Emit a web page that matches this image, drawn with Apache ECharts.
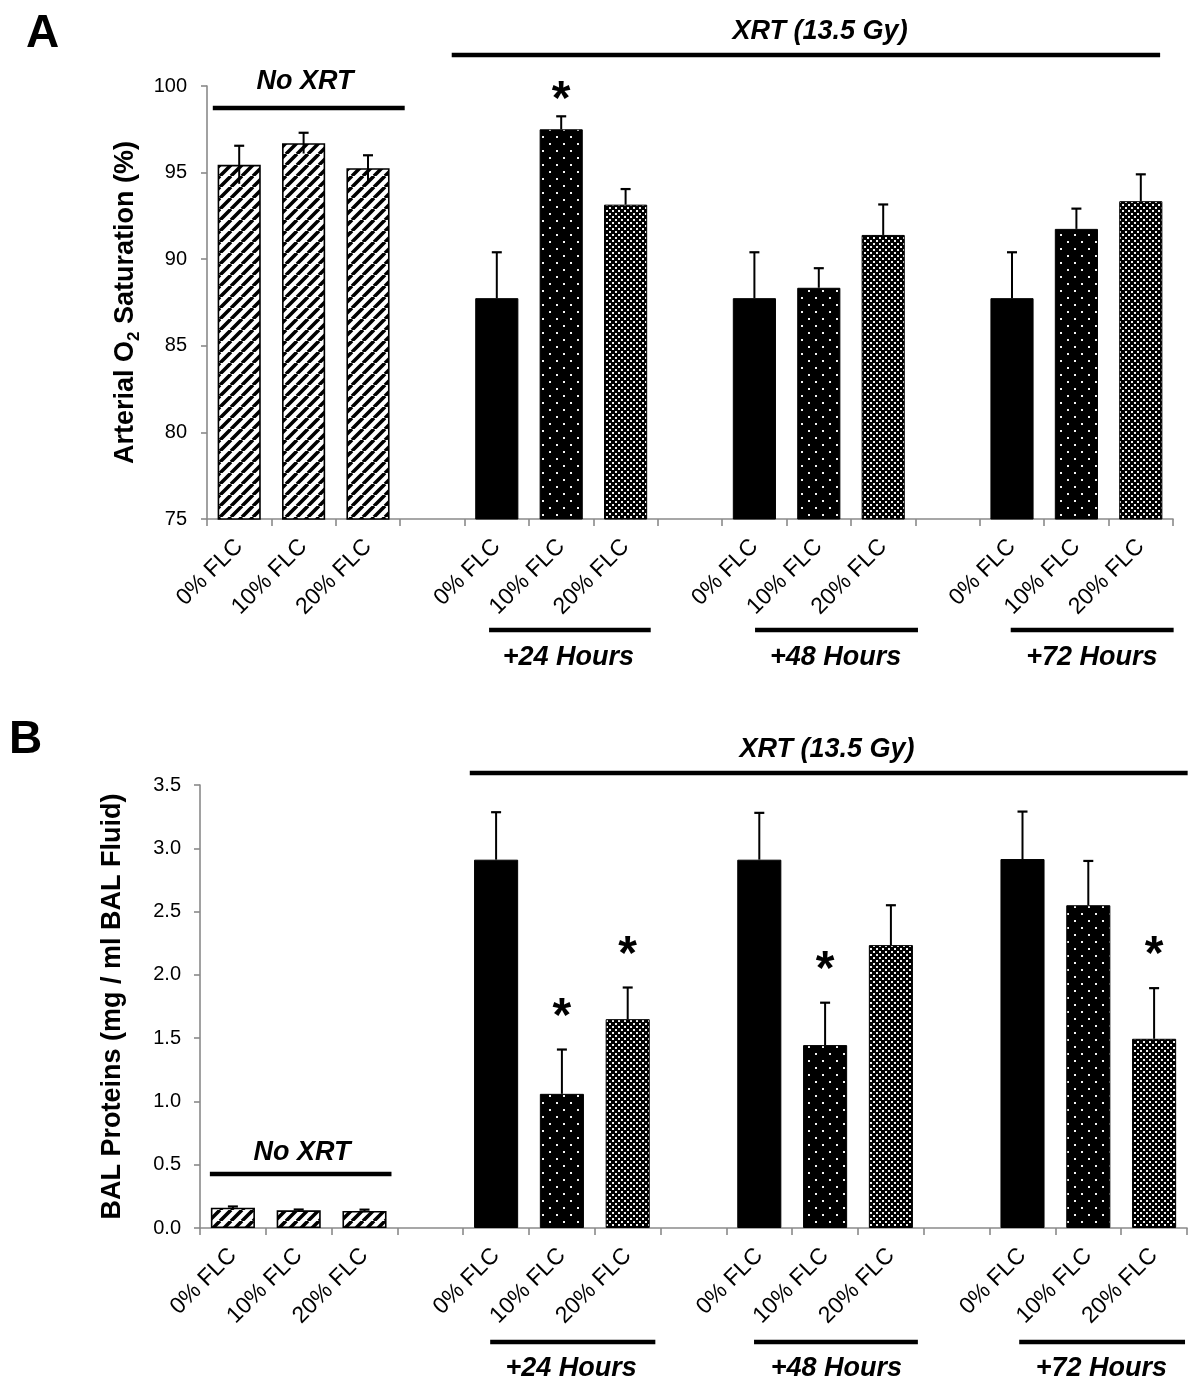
<!DOCTYPE html>
<html>
<head>
<meta charset="utf-8">
<script src="https://cdn.jsdelivr.net/npm/echarts@6/dist/echarts.min.js"></script>
<style>
html,body{margin:0;padding:0;background:#fff;}
#c{width:1200px;height:1397px;}
</style>
</head>
<body>
<div id="c"></div>
<script>
// ---------------- DATA ----------------
const categories = ['0% FLC','10% FLC','20% FLC','','0% FLC','10% FLC','20% FLC','','0% FLC','10% FLC','20% FLC','','0% FLC','10% FLC','20% FLC'];
const o2TickValues = [75, 80, 85, 90, 95, 100];
const balTickLabels = ['0.0','0.5','1.0','1.5','2.0','2.5','3.0','3.5'];

const o2Means  = [95.45, 96.7, 95.25, null, 87.75, 97.5, 93.15, null, 87.75, 88.35, 91.4, null, 87.75, 91.75, 93.35];
const o2Errors = [1.1, 0.6, 0.75, null, 2.65, 0.75, 0.9, null, 2.65, 1.13, 1.76, null, 2.65, 1.17, 1.55];
const o2Significant = [5];

const balMeans  = [0.16, 0.14, 0.135, null, 2.91, 1.06, 1.65, null, 2.91, 1.445, 2.235, null, 2.915, 2.55, 1.495];
const balErrors = [0.01, 0.006, 0.01, null, 0.375, 0.35, 0.25, null, 0.37, 0.335, 0.315, null, 0.375, 0.35, 0.4];
const balSignificant = [5, 6, 9, 14];

const groupNames = ['No XRT', '+24 Hours', '+48 Hours', '+72 Hours'];
const treatmentName = 'XRT (13.5 Gy)';
const panelLetters = ['A', 'B'];
const yTitleA = '{a|Arterial O}{s|2}{a| Saturation (%)}';
const yTitleB = 'BAL Proteins (mg / ml BAL Fluid)';

// ---------------- STYLE ----------------
const FONT = '"Liberation Sans", Arial, Helvetica, sans-serif';
const AXIS_GRAY = '#8a8a8a';

function makeCanvas(w, h) { const c = document.createElement('canvas'); c.width = w; c.height = h; return c; }
function hatchPattern() {
  const s = 11, c = makeCanvas(s, s), ctx = c.getContext('2d');
  ctx.fillStyle = '#fff'; ctx.fillRect(0, 0, s, s);
  ctx.strokeStyle = '#000'; ctx.lineWidth = 3.6;
  ctx.beginPath();
  for (let k = -1; k <= 1; k++) { ctx.moveTo(k * s, s); ctx.lineTo(k * s + s, 0); }
  ctx.stroke();
  return c;
}
function dotPattern(w, h, dots, size, col) {
  const c = makeCanvas(w, h), ctx = c.getContext('2d');
  ctx.fillStyle = '#000'; ctx.fillRect(0, 0, w, h);
  ctx.fillStyle = col;
  dots.forEach(d => ctx.fillRect(d[0], d[1], size, size));
  return c;
}
const PAT = {
  hatch: { image: hatchPattern(), repeat: 'repeat' },
  solid: '#000',
  sparse: { image: dotPattern(14, 14, [[3, 3], [10, 10]], 2, '#f2f2f2'), repeat: 'repeat' },
  dense: { image: dotPattern(6, 6, [[0, 0], [3, 3]], 2, '#f0f0f0'), repeat: 'repeat' }
};
function styleFor(i) {
  const group = Math.floor(i / 4), pos = i % 4;
  if (group === 0) return { color: PAT.hatch, borderColor: '#000', borderWidth: 1.6 };
  if (pos === 0) return { color: PAT.solid, borderColor: '#000', borderWidth: 1 };
  if (pos === 1) return { color: PAT.sparse, borderColor: '#000', borderWidth: 1 };
  return { color: PAT.dense, borderColor: '#000', borderWidth: 1 };
}
function barData(means) {
  return means.map((v, i) => v == null ? '-' : { value: v, itemStyle: styleFor(i) });
}
function errData(means, errs, sig) {
  const out = [];
  means.forEach((v, i) => {
    if (v == null) return;
    out.push([i, v, errs[i], Math.floor(i / 4) === 0 ? 1 : 0, sig.indexOf(i) >= 0 ? 1 : 0]);
  });
  return out;
}
function errRenderer(starOffset) {
  return function (params, api) {
    const i = api.value(0), v = api.value(1), e = api.value(2), lower = api.value(3), star = api.value(4);
    const top = api.coord([i, v + e]);
    const base = api.coord([i, lower ? v - e : v]);
    const cap = 5;
    const children = [
      { type: 'line', shape: { x1: top[0], y1: top[1], x2: base[0], y2: base[1] }, style: { stroke: '#000', lineWidth: 2 } },
      { type: 'line', shape: { x1: top[0] - cap, y1: top[1], x2: top[0] + cap, y2: top[1] }, style: { stroke: '#000', lineWidth: 2.2 } }
    ];
    if (star) {
      children.push({ type: 'text', style: { text: '*', x: top[0], y: top[1] - starOffset + 10, align: 'center', verticalAlign: 'middle',
        font: 'bold 48px ' + FONT, fill: '#000' } });
    }
    return { type: 'group', children };
  };
}

const xAxisCommon = (gridIndex) => ({
  type: 'category', gridIndex, data: categories, boundaryGap: true,
  axisLine: { show: true, lineStyle: { color: AXIS_GRAY, width: 1.6 } },
  axisTick: { show: true, interval: 0, length: 7, lineStyle: { color: AXIS_GRAY, width: 1.6 } },
  axisLabel: { interval: 0, rotate: 45, margin: 24, fontSize: 23, fontFamily: FONT, color: '#000' },
  splitLine: { show: false }
});

const chart = echarts.init(document.getElementById('c'), null, { renderer: 'canvas' });

const balMin = parseFloat(balTickLabels[0]);
const balMax = parseFloat(balTickLabels[balTickLabels.length - 1]);
const balStep = parseFloat(balTickLabels[1]) - balMin;

chart.setOption({
  animation: false,
  backgroundColor: '#fff',
  grid: [
    { left: 207, top: 86, width: 966, height: 433, containLabel: false, outerBoundsMode: 'none' },
    { left: 200, top: 785, width: 987, height: 443, containLabel: false, outerBoundsMode: 'none' }
  ],
  xAxis: [xAxisCommon(0), xAxisCommon(1)],
  yAxis: [
    {
      type: 'value', gridIndex: 0, min: o2TickValues[0], max: o2TickValues[o2TickValues.length - 1],
      interval: o2TickValues[1] - o2TickValues[0],
      axisLine: { show: true, lineStyle: { color: AXIS_GRAY, width: 1.6 } },
      axisTick: { show: true, length: 6, lineStyle: { color: AXIS_GRAY, width: 1.6 } },
      axisLabel: { margin: 20, fontSize: 20, fontFamily: FONT, color: '#000' },
      splitLine: { show: false },
      name: yTitleA, nameLocation: 'middle', nameRotate: 90, nameGap: 57,
      nameTextStyle: {
        rich: {
          a: { fontSize: 27, fontWeight: 'bold', fontFamily: FONT, color: '#000', lineHeight: 34 },
          s: { fontSize: 17, fontWeight: 'bold', fontFamily: FONT, color: '#000', lineHeight: 20, verticalAlign: 'bottom' }
        }
      }
    },
    {
      type: 'value', gridIndex: 1, min: balMin, max: balMax, interval: balStep,
      axisLine: { show: true, lineStyle: { color: AXIS_GRAY, width: 1.6 } },
      axisTick: { show: true, length: 6, lineStyle: { color: AXIS_GRAY, width: 1.6 } },
      axisLabel: { margin: 19, fontSize: 20, fontFamily: FONT, color: '#000',
        formatter: (v) => balTickLabels[Math.round((v - balMin) / balStep)] },
      splitLine: { show: false },
      name: yTitleB, nameLocation: 'middle', nameRotate: 90, nameGap: 70,
      nameTextStyle: { fontSize: 27, fontWeight: 'bold', fontFamily: FONT, color: '#000', lineHeight: 34 }
    }
  ],
  series: [
    { type: 'bar', xAxisIndex: 0, yAxisIndex: 0, data: barData(o2Means), barWidth: '67%', z: 2 },
    { type: 'custom', xAxisIndex: 0, yAxisIndex: 0, data: errData(o2Means, o2Errors, o2Significant),
      renderItem: errRenderer(26), clip: false, z: 5 },
    { type: 'bar', xAxisIndex: 1, yAxisIndex: 1, data: barData(balMeans), barWidth: '67%', z: 2 },
    { type: 'custom', xAxisIndex: 1, yAxisIndex: 1, data: errData(balMeans, balErrors, balSignificant),
      renderItem: errRenderer(42), clip: false, z: 5 }
  ]
});

// ---------------- ANNOTATIONS (brackets, group labels) ----------------
// positions in category units (0 = first category centre)
const brackets = [
  // panel A
  { g: 0, text: groupNames[0], from: -0.41, to: 2.57, tf: 1.02, lineY: 108, textY: 82 },
  { g: 0, text: treatmentName, from: 3.30, to: 14.30, tf: 9.02, lineY: 55, textY: 32 },
  { g: 0, text: groupNames[1], from: 3.88, to: 6.39, tf: 5.11, lineY: 630, textY: 658 },
  { g: 0, text: groupNames[2], from: 8.01, to: 10.54, tf: 9.26, lineY: 630, textY: 658 },
  { g: 0, text: groupNames[3], from: 11.98, to: 14.51, tf: 13.24, lineY: 630, textY: 658 },
  // panel B
  { g: 1, text: groupNames[0], from: -0.35, to: 2.41, tf: 1.05, lineY: 1174, textY: 1153 },
  { g: 1, text: treatmentName, from: 3.60, to: 14.51, tf: 9.03, lineY: 773, textY: 750 },
  { g: 1, text: groupNames[1], from: 3.91, to: 6.42, tf: 5.14, lineY: 1342, textY: 1369 },
  { g: 1, text: groupNames[2], from: 7.92, to: 10.41, tf: 9.17, lineY: 1342, textY: 1369 },
  { g: 1, text: groupNames[3], from: 11.95, to: 14.47, tf: 13.2, lineY: 1342, textY: 1369 }
];
function catX(g, f) {
  const x0 = chart.convertToPixel({ xAxisIndex: g }, 0);
  const x1 = chart.convertToPixel({ xAxisIndex: g }, 1);
  return x0 + f * (x1 - x0);
}
const graphics = [];
brackets.forEach(b => {
  graphics.push({ type: 'line', shape: { x1: catX(b.g, b.from), y1: b.lineY, x2: catX(b.g, b.to), y2: b.lineY },
    style: { stroke: '#000', lineWidth: 4.5 } });
  graphics.push({ type: 'text', x: catX(b.g, b.tf), y: b.textY,
    style: { text: b.text, align: 'center', verticalAlign: 'middle', font: 'italic bold 27px ' + FONT, fill: '#000' } });
});
graphics.push({ type: 'text', x: 26, y: 34, style: { text: panelLetters[0], align: 'left', verticalAlign: 'middle', font: 'bold 46px ' + FONT, fill: '#000' } });
graphics.push({ type: 'text', x: 9, y: 740, style: { text: panelLetters[1], align: 'left', verticalAlign: 'middle', font: 'bold 46px ' + FONT, fill: '#000' } });
chart.setOption({ graphic: graphics });
</script>
</body>
</html>
